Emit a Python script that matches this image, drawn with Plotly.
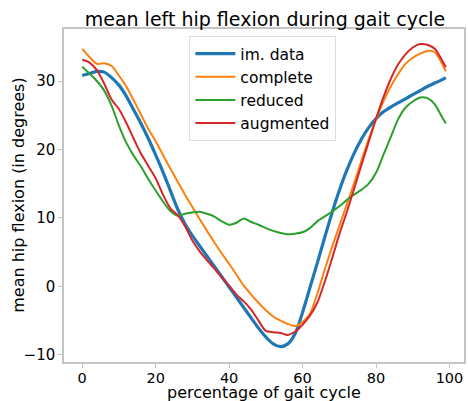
import plotly.graph_objects as go

x_pct = [0, 2, 4, 6, 8, 10, 12, 14, 16, 18, 20, 22, 24, 26, 28, 30, 32, 34, 36, 38,
         40, 42, 44, 46, 48, 50, 52, 54, 56, 58, 60, 62, 64, 66, 68, 70, 72, 74, 76, 78,
         80, 82, 84, 86, 88, 90, 92, 94, 96, 98, 99]

im_data = [30.8, 31.1, 31.4, 31.3, 30.5, 29.4, 27.8, 25.8, 23.8, 21.6, 19.2, 16.7, 14.0, 11.3, 9.1,
           7.4, 5.9, 4.4, 2.9, 1.4, -0.1, -1.6, -3.1, -4.6, -6.1, -7.4, -8.4, -8.8, -8.4, -6.9,
           -3.8, -0.2, 3.4, 7.1, 10.7, 14.0, 16.9, 19.4, 21.5, 23.2, 24.5, 25.5, 26.2, 26.8, 27.4,
           28.0, 28.6, 29.2, 29.7, 30.2, 30.5]

complete = [34.7, 33.5, 32.5, 32.6, 32.2, 30.8, 29.2, 27.2, 25.1, 23.0, 21.2, 19.2, 17.2, 15.3, 13.4,
            11.6, 9.8, 8.1, 6.4, 4.8, 3.3, 1.7, 0.1, -1.2, -2.4, -3.5, -4.4, -5.0, -5.5, -5.8,
            -5.2, -4.0, -1.1, 2.4, 5.7, 8.8, 11.9, 15.0, 18.3, 21.5, 24.4, 27.0, 29.2, 31.0, 32.5,
            33.4, 34.0, 34.4, 34.2, 32.5, 31.4]

reduced = [32.1, 31.1, 30.0, 28.6, 26.4, 23.5, 21.0, 19.1, 17.5, 15.7, 14.0, 12.4, 11.0, 10.3, 10.6,
           10.8, 10.9, 10.6, 10.2, 9.5, 9.0, 9.3, 9.9, 9.4, 9.0, 8.5, 8.1, 7.8, 7.6, 7.7,
           7.9, 8.5, 9.5, 10.2, 10.9, 11.7, 12.6, 13.4, 14.1, 15.0, 16.6, 19.2, 21.8, 24.4, 26.1,
           27.0, 27.6, 27.5, 26.6, 24.7, 23.8]

augmented = [33.1, 32.7, 31.6, 29.6, 27.3, 25.9, 23.9, 21.6, 19.4, 17.6, 15.8, 13.4, 11.4, 10.4, 8.8,
             6.7, 5.1, 3.8, 2.6, 1.3, 0.1, -1.2, -2.2, -3.4, -5.0, -6.5, -6.7, -6.8, -7.1, -6.6,
             -5.6, -4.3, -2.4, 0.6, 4.0, 7.6, 10.8, 14.2, 17.7, 21.1, 24.5, 27.6, 30.3, 32.4, 33.9,
             34.9, 35.4, 35.3, 34.7, 33.0, 32.0]

x_ticks = [0, 20, 40, 60, 80, 100]
y_ticks = [-10, 0, 10, 20, 30]

series = [
    ("im. data", im_data, "#1f77b4", 3.2),
    ("complete", complete, "#ff7f0e", 2.0),
    ("reduced", reduced, "#2ca02c", 2.0),
    ("augmented", augmented, "#d62728", 2.0),
]

fig = go.Figure()
for name, ys, color, w in series:
    fig.add_trace(go.Scatter(x=x_pct, y=ys, mode="lines", name=name,
                             line=dict(color=color, width=w, shape="spline", smoothing=0.8)))

font_family = "DejaVu Sans"
spine = "#c4c4c4"
L, R, T, B = 64, 466, 29, 362
pw, ph = R - L, B - T

fig.update_layout(
    width=468, height=401,
    margin=dict(l=L, r=468 - R, t=T, b=401 - B),
    paper_bgcolor="white", plot_bgcolor="white",
    font=dict(family=font_family, color="black"),
    title=dict(text="mean left hip flexion during gait cycle", font=dict(size=19),
               x=(L + R) / 2 / 468, xanchor="center", y=1 - 19 / 401, yanchor="middle"),
    legend=dict(x=(190 - L) / pw, y=(B - 36) / ph, xanchor="left", yanchor="top",
                bgcolor="white", bordercolor="#dddddd", borderwidth=1,
                font=dict(size=15.5), itemwidth=40),
    showlegend=True,
    annotations=[
        dict(text="percentage of gait cycle", xref="paper", yref="paper",
             x=0.5, y=(B - 392.5) / ph, xanchor="center", yanchor="middle",
             showarrow=False, font=dict(size=16), borderpad=0),
        dict(text="mean hip flexion (in degrees)", xref="paper", yref="paper",
             x=(18 - L) / pw, y=0.5, xanchor="center", yanchor="middle", textangle=-90,
             showarrow=False, font=dict(size=16)),
    ],
)
fig.update_xaxes(range=[-4.95, 103.95], tickvals=x_ticks, ticks="outside", ticklen=4,
                 tickcolor=spine, tickfont=dict(size=14.5), ticklabelstandoff=-2,
                 showgrid=False, zeroline=False,
                 showline=True, linecolor=spine, linewidth=1.5, mirror=True)
fig.update_yaxes(range=[-11.05, 37.6], tickvals=y_ticks, ticks="outside", ticklen=4,
                 tickcolor=spine, tickfont=dict(size=15), showgrid=False, zeroline=False,
                 showline=True, linecolor=spine, linewidth=1.5, mirror=True)

fig.write_html("out.html")
